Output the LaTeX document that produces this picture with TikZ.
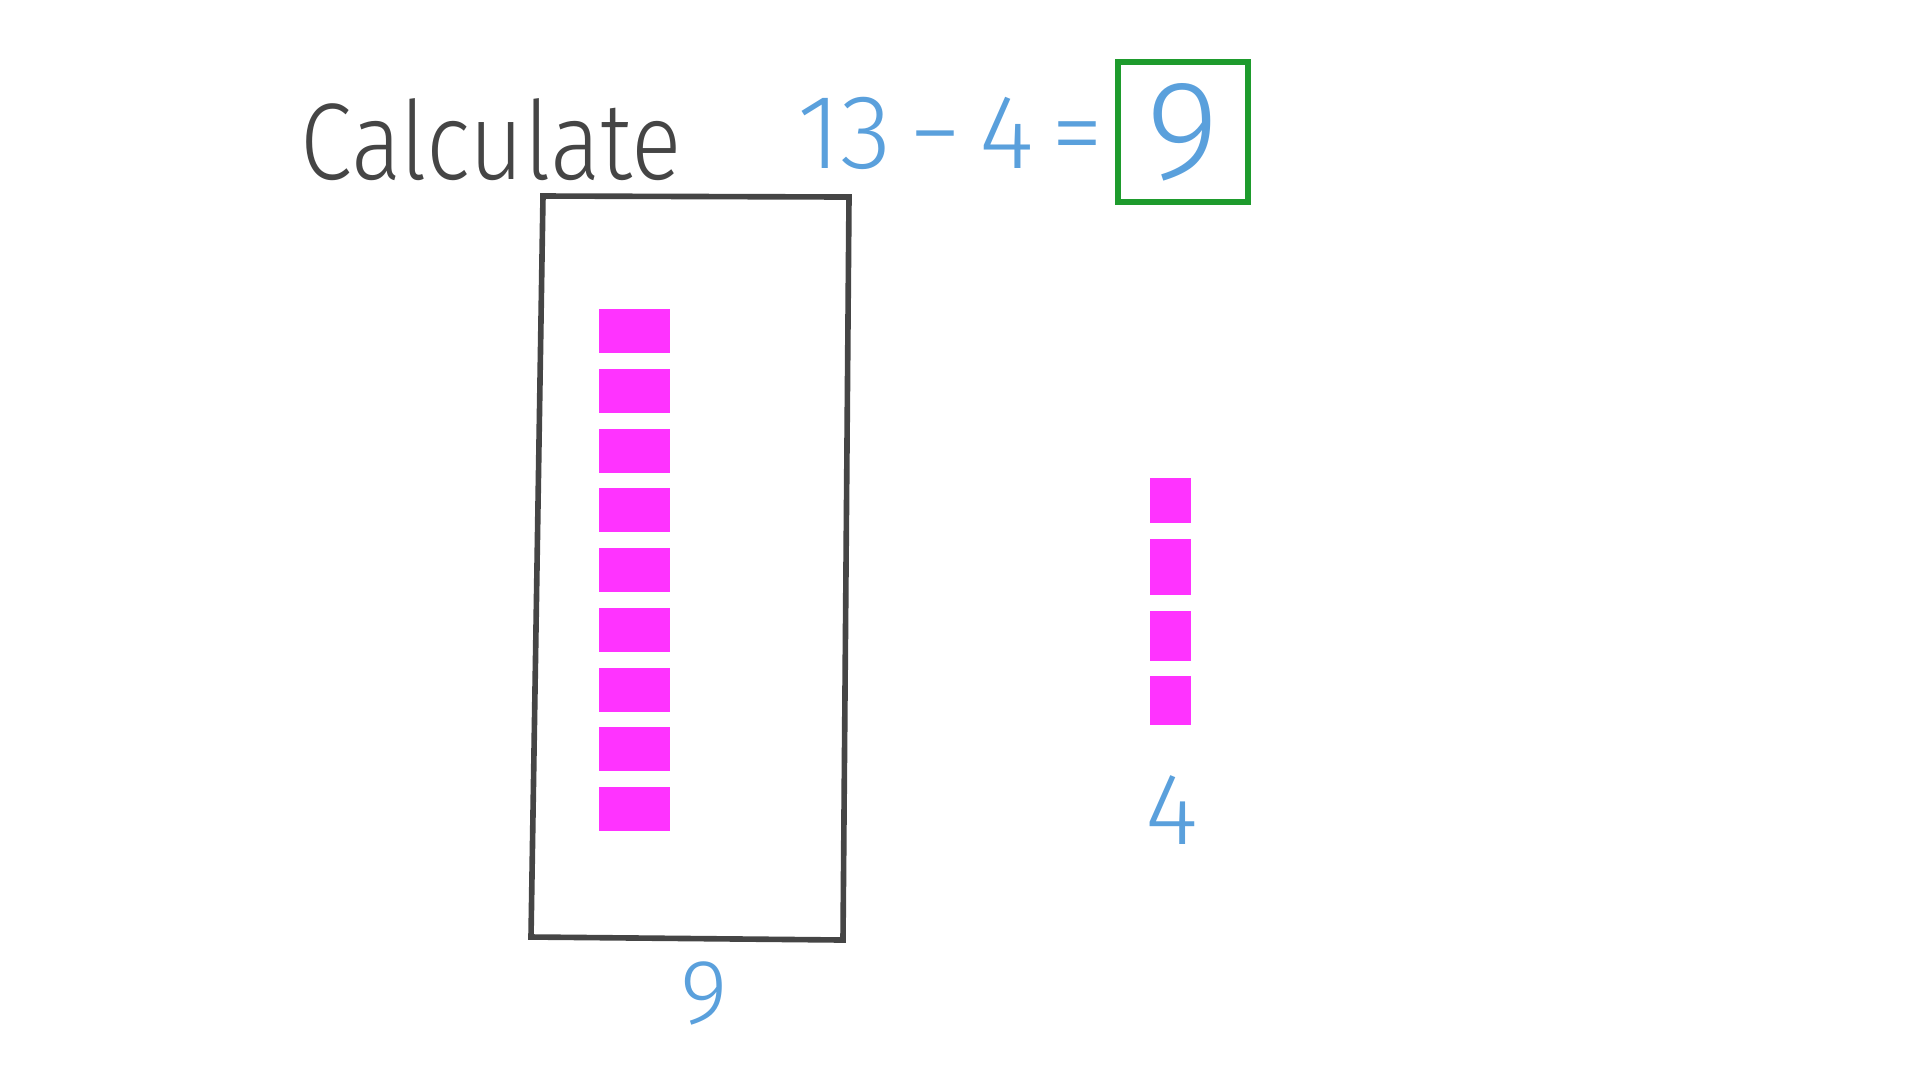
\documentclass[tikz,border=0pt]{standalone}
\usepackage{fontspec}
\setmainfont{Fira Sans}[UprightFont={* Light}]
\definecolor{pen}{RGB}{69,69,69}
\definecolor{inkblue}{RGB}{90,160,220}
\definecolor{inkgreen}{RGB}{30,155,45}
\definecolor{cube}{RGB}{255,51,255}
\tikzset{
  bluetext/.style={text=inkblue, inner sep=0pt},
}
\begin{document}
\begin{tikzpicture}[x=0.1mm, y=-0.1mm]
        \useasboundingbox (0,0) rectangle (1920,1080);
        % Titulo
        \node[anchor=base west, text=pen, inner sep=0pt] (calc) at (300,179) {\scalebox{0.86}[1]{\fontsize{31}{36}\selectfont Calculate}};
        % Operacion
        \node[bluetext, anchor=base east] (sum) at (1104,168) {\fontsize{30}{36}\selectfont 13\,−\,4\,=};
        \node[bluetext, draw=inkgreen, line width=1.6pt, minimum width=13mm, minimum height=14mm] (ans) at (1183,132) {\fontsize{40}{48}\selectfont 9};
        % Caja de nueve
        \draw[pen, line width=1.6pt] (543,196) -- (849,197) -- (843,940) -- (531,937) -- cycle;
        \foreach \i in {0,...,8}
            \fill[cube] (599,{309+59.75*\i}) rectangle ++(71,44);
        \node[bluetext] (nine) at (704,993) {\fontsize{26}{30}\selectfont 9};
        % Cuatro sueltos
        \foreach \t/\h in {478/45,539/56,611/50,676/49}
            \fill[cube] (1150,\t) rectangle ++(41,\h);
        \node[bluetext] (four) at (1172,810) {\fontsize{29}{34}\selectfont 4};
    \end{tikzpicture}
\end{document}
